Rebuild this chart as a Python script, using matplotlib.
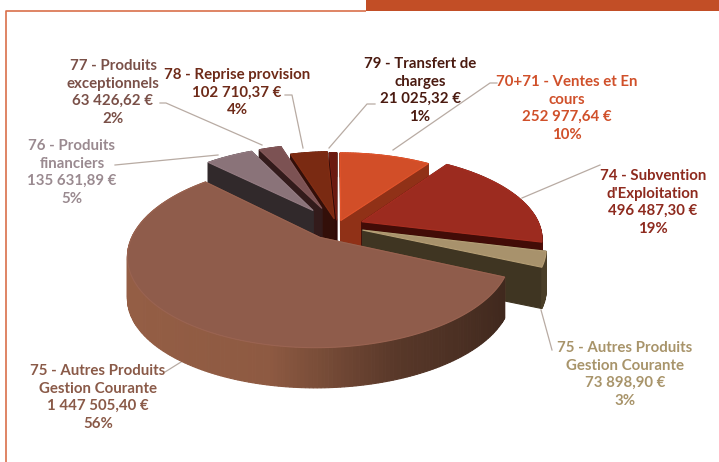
import numpy as np
import matplotlib
matplotlib.use("Agg")
import matplotlib.pyplot as plt
from matplotlib.colors import to_rgb

plt.rcParams['font.family'] = ['Lato', 'DejaVu Sans']

names = ["70+71 - Ventes et En\ncours", "74 - Subvention\nd'Exploitation",
         "75 - Autres Produits\nGestion Courante", "75 - Autres Produits\nGestion Courante",
         "76 - Produits\nfinanciers", "77 - Produits\nexceptionnels",
         "78 - Reprise provision", "79 - Transfert de\ncharges"]
amounts = ["252 977,64 €", "496 487,30 €", "73 898,90 €", "1 447 505,40 €",
           "135 631,89 €", "63 426,62 €", "102 710,37 €", "21 025,32 €"]
percents = ["10%", "19%", "3%", "56%", "5%", "2%", "4%", "1%"]
values = [252977.64, 496487.30, 73898.90, 1447505.40, 135631.89, 63426.62, 102710.37, 21025.32]

top_colors = ["#D24E28", "#9C2B1F", "#A8926C", "#8F5C4B", "#8A7379", "#7C5253", "#7A2A12", "#6A1A10"]
wall_colors = ["#A93A1B", "#4E0E08", "#4A3E28", "#8E5A42", "#3A3032", "#3C2020", "#3C120A", "#3A0C08"]
text_colors = ["#D0502A", "#8E2A1E", "#A8946A", "#8A5A48", "#9A8A90", "#7A5048", "#6E2A18", "#4A1A10"]
explode = [0.07, 0.15, 0.15, 0.165, 0.24, 0.24, 0.09, 0.07]
radius = [1, 1, 1, 1.03, 1, 1, 1, 1]
draw_order = [7, 6, 5, 4, 0, 1, 2, 3]
label_pos = [(567, 80), (653, 174), (625, 346), (98, 369), (72, 144), (113, 64), (237, 73), (420, 62)]
leaders = [[(497, 83), (490, 83), (393, 150)], [(600, 165), (522, 198)],
           [(552, 350), (541, 310)], [(165, 372), (197, 352)],
           [(115, 165), (218, 155)], [(160, 103), (166, 103), (262, 145)],
           [(285, 95), (292, 95), (303, 148)], [(375, 104), (367, 104), (329, 148)]]

CX, CY, A, B, K = 337, 226, 178, 82, 0.184


def project(x, y, z=0.0):
    w = 1 + K * y
    h = np.interp(y, [-1.3, 0.0, 1.2], [40, 42, 22])
    return CX + A * x / w, CY - B * y / w + h * z


fig = plt.figure(figsize=(7.19, 4.62), dpi=100, facecolor="white")
ax = fig.add_axes([0, 0, 1, 1])
ax.set_xlim(0, 719)
ax.set_ylim(462, 0)
ax.axis("off")

# page furniture
ax.fill_between([366, 719], 0, 11, color="#C24E26", lw=0, zorder=1)
ax.plot([6, 6, 366], [462, 11, 11], color="#D9704A", lw=1.2, zorder=1, solid_capstyle="butt")

# slices
total = sum(values)
edges = np.concatenate([[0], np.cumsum(values)]) / total * 2 * np.pi
z = 10
for i in draw_order:
    a0, a1 = edges[i], edges[i + 1]
    mid = (a0 + a1) / 2
    ox, oy = explode[i] * np.sin(mid), explode[i] * np.cos(mid)
    th = np.linspace(a0, a1, max(4, int((a1 - a0) * 60)))
    xs, ys = ox + radius[i] * np.sin(th), oy + radius[i] * np.cos(th)
    wall = np.array(to_rgb(wall_colors[i]))
    quads = []
    for px, py in [(xs[0], ys[0]), (xs[-1], ys[-1])]:
        q = [project(ox, oy, 0), project(px, py, 0), project(px, py, 1), project(ox, oy, 1)]
        quads.append(((oy + py) / 2 + 0.01, q, wall * 0.85))
    for j in range(len(th) - 1):
        q = [project(xs[j], ys[j], 0), project(xs[j + 1], ys[j + 1], 0),
             project(xs[j + 1], ys[j + 1], 1), project(xs[j], ys[j], 1)]
        s = np.sin((th[j] + th[j + 1]) / 2)
        shade = np.interp(s, [-1, -0.2, 0.35, 1], [1.05, 1.0, 0.62, 0.42]) if i == 3 else 1.0
        quads.append(((ys[j] + ys[j + 1]) / 2, q, np.clip(wall * shade, 0, 1)))
    for _, q, c in sorted(quads, key=lambda t: -t[0]):
        ax.fill(*zip(*q), color=c, lw=0.8, zorder=z)
        z += 1
    top = [project(ox, oy)] + [project(x, y) for x, y in zip(xs, ys)]
    ax.fill(*zip(*top), facecolor=top_colors[i], edgecolor=np.clip(np.array(to_rgb(top_colors[i])) * 1.08, 0, 1),
            lw=0.8, zorder=z)
    z += 1

# leaders and labels
for i in range(len(values)):
    ax.plot(*zip(*leaders[i]), color="#B8ABA3", lw=0.9, zorder=5)
    x, y = label_pos[i]
    ax.text(x, y - 5, f"{names[i]}\n{amounts[i]}\n{percents[i]}", color=text_colors[i], ha="center", va="top",
            fontsize=10.8, fontweight="bold", linespacing=1.33, zorder=z + 10)

fig.savefig("out.png", dpi=100, facecolor="white")
